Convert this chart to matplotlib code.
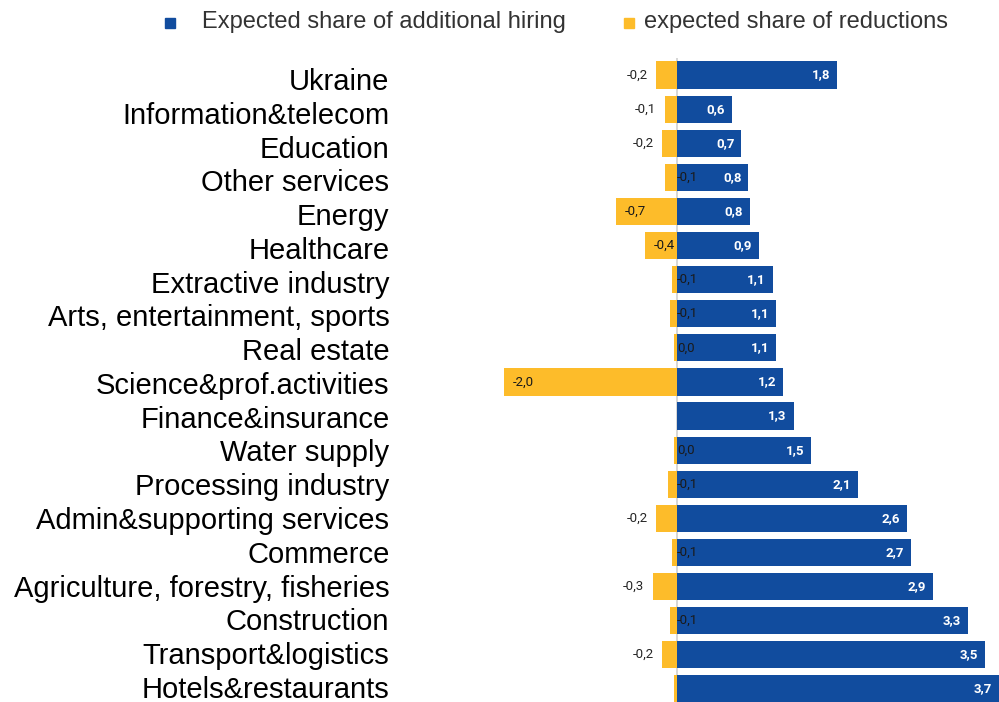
import matplotlib
matplotlib.use("Agg")
import matplotlib.pyplot as plt
from matplotlib.lines import Line2D
from matplotlib.transforms import ScaledTranslation

categories = ["Ukraine", "Information&telecom", "Education", "Other services", "Energy",
              "Healthcare", "Extractive industry", "Arts, entertainment, sports", "Real estate",
              "Science&prof.activities", "Finance&insurance", "Water supply", "Processing industry",
              "Admin&supporting services", "Commerce", "Agriculture, forestry, fisheries",
              "Construction", "Transport&logistics", "Hotels&restaurants"]
hiring = [1.84, 0.63, 0.74, 0.82, 0.84, 0.94, 1.10, 1.14, 1.14, 1.22, 1.34, 1.54, 2.08,
          2.64, 2.69, 2.94, 3.34, 3.54, 3.70]
reductions = [-0.24, -0.14, -0.17, -0.14, -0.70, -0.37, -0.06, -0.08, -0.03, -1.99, 0.0,
              -0.03, -0.10, -0.24, -0.06, -0.28, -0.08, -0.17, -0.03]
hiring_labels = ["1,8", "0,6", "0,7", "0,8", "0,8", "0,9", "1,1", "1,1", "1,1", "1,2", "1,3",
                 "1,5", "2,1", "2,6", "2,7", "2,9", "3,3", "3,5", "3,7"]
reduction_labels = ["-0,2", "-0,1", "-0,2", "-0,1", "-0,7", "-0,4", "-0,1", "-0,1", "0,0", "-2,0",
                    "", "0,0", "-0,1", "-0,2", "-0,1", "-0,3", "-0,1", "-0,2", ""]
legend_labels = ["Expected share of additional hiring", "expected share of reductions"]

# label placement style for reductions: 'out' = left of bar, 'zero' = right of zero line, 'in' = inside bar start
red_place = ["out", "out", "out", "zero", "in", "in", "zero", "zero", "zero", "in",
             "", "zero", "zero", "out", "zero", "out", "zero", "out", ""]

BLUE = "#114C9E"
YELLOW = "#FDBC2A"

W, H = 999, 702
fig = plt.figure(figsize=(W / 100, H / 100), dpi=100)
px_per_unit = 87.0
left_px = 395
zero_px = 677
ax = fig.add_axes([left_px / W, 0, 1 - left_px / W, 1 - 58 / H])
xmin = -(zero_px - left_px) / px_per_unit
xmax = (W - zero_px) / px_per_unit
ax.set_xlim(xmin, xmax)
spacing = 34.1
ax.set_ylim(-0.5 + (H - 58) / spacing, -0.5)

y = list(range(len(categories)))
ax.barh(y, hiring, height=0.8, color=BLUE, zorder=2)
ax.barh(y, reductions, height=0.8, color=YELLOW, zorder=2)
ax.axvline(0, color="#d0d0d0", lw=1.2, zorder=1)

for i in y:
    ax.text(hiring[i] - 0.08, i, hiring_labels[i], ha="right", va="center", color="white",
            fontsize=9.5, fontweight="bold", family="Roboto", zorder=3)
    lab = reduction_labels[i]
    if not lab:
        continue
    p = red_place[i]
    if p == "out":
        ax.text(reductions[i] - 0.1, i, lab, ha="right", va="center", color="#262626",
                fontsize=9.5, family="Roboto", zorder=3)
    elif p == "zero":
        ax.text(0.0, i, lab, ha="left", va="center", color="#1a1a1a",
                fontsize=9.5, family="Roboto", zorder=3)
    else:
        ax.text(reductions[i] + 0.1, i, lab, ha="left", va="center", color="#1a1a1a",
                fontsize=9.5, family="Roboto", zorder=3)

ax.set_yticks(y)
ax.set_yticklabels(categories, fontsize=21, family="Liberation Sans", color="black")
ax.tick_params(axis="y", length=0, pad=4)
ax.set_xticks([])
for s in ax.spines.values():
    s.set_visible(False)
n = len(categories)
for k, t in enumerate(ax.get_yticklabels()):
    dy = 4 - 6 * k / (n - 1)
    t.set_transform(t.get_transform() + ScaledTranslation(0, -dy / 100, fig.dpi_scale_trans))

# legend
fig.add_artist(Line2D([170 / W], [1 - 23 / H], marker="s", markersize=7, color=BLUE,
                      linestyle="none", transform=fig.transFigure))
fig.text(202 / W, 1 - 22 / H, legend_labels[0], ha="left", va="center", fontsize=17,
         family="Liberation Sans", color="#333333")
fig.add_artist(Line2D([629 / W], [1 - 23 / H], marker="s", markersize=7, color=YELLOW,
                      linestyle="none", transform=fig.transFigure))
fig.text(644 / W, 1 - 22 / H, legend_labels[1], ha="left", va="center", fontsize=17,
         family="Liberation Sans", color="#333333")

fig.savefig("out.png", dpi=100)
